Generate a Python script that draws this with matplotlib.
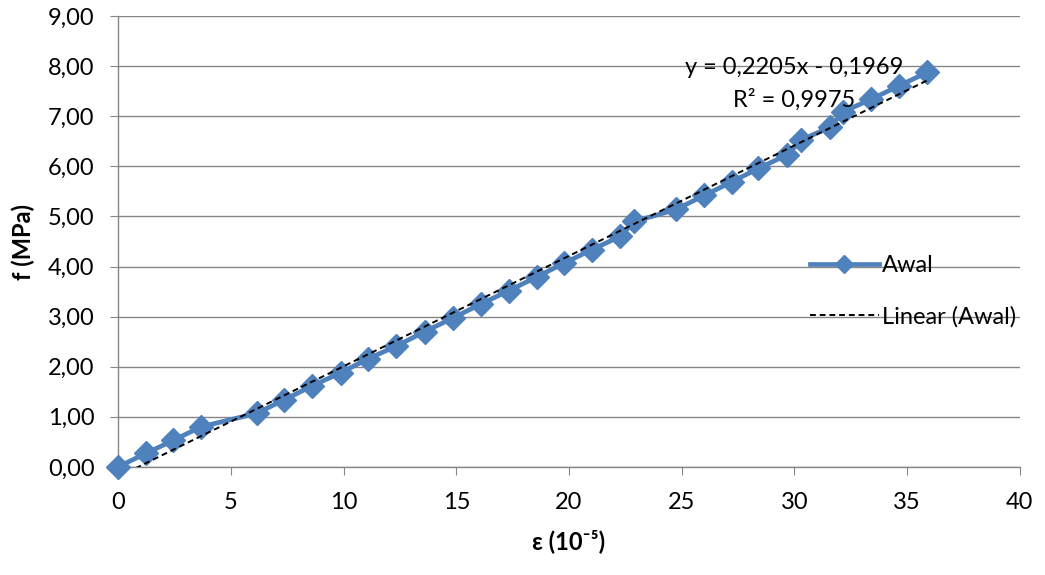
import numpy as np
import matplotlib
matplotlib.use("Agg")
import matplotlib.pyplot as plt

plt.rcParams['font.family'] = ['Lato', 'DejaVu Sans']

# strain (x 10^-5) and stress (MPa) readings
strain = [0.0, 1.23, 2.45, 3.67, 6.15, 7.37, 8.62, 9.87, 11.1, 12.33, 13.6, 14.84,
          16.08, 17.34, 18.56, 19.79, 21.03, 22.26, 22.9, 24.75, 26.0, 27.22, 28.4,
          29.68, 30.31, 31.57, 32.16, 33.4, 34.65, 35.9]
stress = [0.0, 0.27, 0.53, 0.80, 1.07, 1.34, 1.62, 1.88, 2.16, 2.41, 2.70, 2.97,
          3.25, 3.52, 3.79, 4.07, 4.34, 4.60, 4.90, 5.14, 5.42, 5.69, 5.96,
          6.23, 6.53, 6.78, 7.09, 7.34, 7.61, 7.88]

# trendline coefficients as printed on the chart
slope = 0.2205
intercept = -0.1969
r2 = 0.9975

blue = '#4F81BD'
grey = '#868686'
fs = 17

fig = plt.figure(figsize=(10.45, 5.75), dpi=100)
ax = fig.add_axes([0.113, 0.188, 0.863, 0.784])

xs = np.linspace(min(strain), max(strain), 200)
ax.plot(strain, stress, color=blue, lw=3.4, marker='D', ms=12,
        markeredgecolor=blue, label='Awal', zorder=3, clip_on=False)
ax.plot(xs, slope * xs + intercept, color='black', lw=1.4, ls=(0, (3, 2)),
        label='Linear (Awal)', zorder=4)

ax.set_xlim(0, 40)
ax.set_ylim(0, 9)
ax.set_xticks(np.arange(0, 41, 5))
ax.set_yticks(np.arange(0, 9.01, 1))
ax.set_yticklabels([f'{v:.2f}'.replace('.', ',') for v in np.arange(0, 9.01, 1)])
ax.grid(axis='y', color=grey, lw=1)
ax.set_axisbelow(True)

for s in ['top', 'right']:
    ax.spines[s].set_visible(False)
for s in ['left', 'bottom']:
    ax.spines[s].set_color(grey)
    ax.spines[s].set_linewidth(1)
ax.tick_params(axis='both', colors=grey, labelcolor='black', labelsize=fs,
               length=6, direction='out')
ax.tick_params(axis='x', pad=12)
ax.tick_params(axis='y', pad=11)

ax.set_xlabel('ε (10⁻⁵)', fontsize=fs, fontweight='bold', labelpad=12)
ax.set_ylabel('f (MPa)', fontsize=fs, fontweight='bold', labelpad=9)

eq = f'y = {slope:.4f}x - {abs(intercept):.4f}'.replace('.', ',')
r2_text = f'R² = {r2:.4f}'.replace('.', ',')
ax.text(30.0, 7.98, eq, ha='center', va='center', fontsize=fs)
ax.text(30.0, 7.32, r2_text, ha='center', va='center', fontsize=fs)

leg = ax.legend(loc='center left', bbox_to_anchor=(0.757, 0.39), frameon=False,
                fontsize=fs, handlelength=2.9, handletextpad=0.15, labelspacing=1.25,
                borderaxespad=0, markerscale=0.8)

fig.savefig('out.png', dpi=100)
